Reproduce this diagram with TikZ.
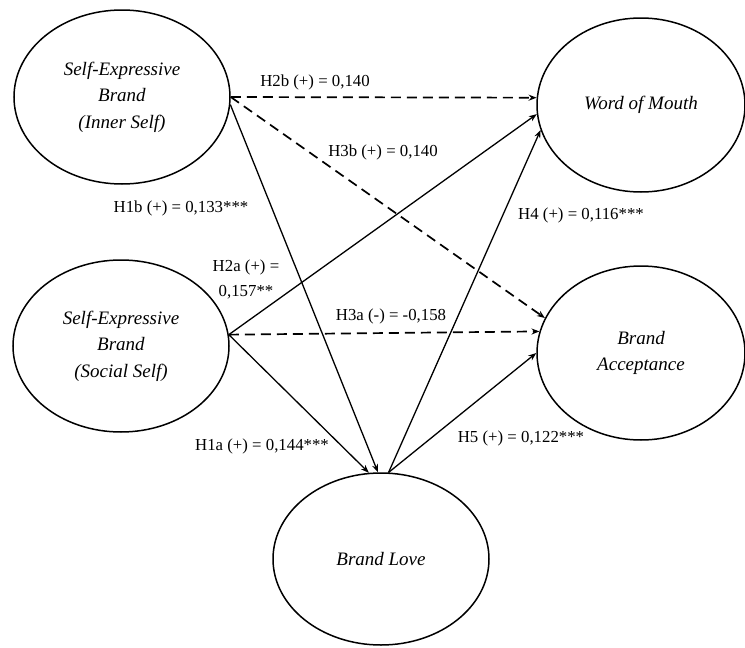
\documentclass[tikz,border=0pt]{standalone}
\usepackage{fontspec}
\setmainfont{Liberation Serif}
\usetikzlibrary{shapes.geometric,arrows.meta}
\begin{document}
\begin{tikzpicture}[x=1pt,y=-1pt,
  construct/.style={draw,ellipse,line width=1.5pt,inner sep=0pt,align=center,
    font=\fontsize{19}{26.5}\selectfont\itshape},
  lbl/.style={font=\fontsize{16.8}{25}\selectfont,inner sep=0pt,align=center},
  link/.style={line width=1.3pt,-{Stealth[length=8pt,width=6pt]}},
  dlink/.style={link,line width=1.7pt,dash pattern=on 10pt off 6pt}]
\useasboundingbox (0,0) rectangle (745,648);
\node[construct,minimum width=216pt,minimum height=174pt] (inner) at (122,97)
  {Self-Expressive\\Brand\\(Inner Self)};
\node[construct,minimum width=216pt,minimum height=172pt] (social) at (121,346)
  {Self-Expressive\\Brand\\(Social Self)};
\node[construct,minimum width=208pt,minimum height=174pt] (wom) at (641,105)
  {Word of Mouth};
\node[construct,minimum width=208pt,minimum height=174pt] (ba) at (641,353)
  {Brand\\Acceptance};
\node[construct,minimum width=216pt,minimum height=172pt] (bl) at (381,559)
  {Brand Love};
% connectors
\draw[dlink] (inner.0) -- (wom.176);
\draw[dlink] (inner.0) -- (ba.160);
\draw[link] (inner.-4) -- (bl.92.6);
\draw[link] (social.6) -- (wom.185.5);
\draw[dlink] (social.6) -- (ba.168.5);
\draw[link] (social.6) -- (bl.98.5);
\draw[link] (bl.85) -- (wom.194.7);
\draw[link] (bl.85) -- (ba.180.5);
% labels
\node[lbl] (l2b) at (315,82) {H2b (+) = 0,140};
\node[lbl] (l3b) at (383,152) {H3b (+) = 0,140};
\node[lbl] (l1b) at (181,208) {H1b (+) = 0,133***};
\node[lbl] (l2a) at (246,279) {H2a (+) =\\0,157**};
\node[lbl] (l3a) at (391,316) {H3a (-) = -0,158};
\node[lbl] (l4) at (581,215) {H4 (+) = 0,116***};
\node[lbl] (l5) at (521,438) {H5 (+) = 0,122***};
\node[lbl] (l1a) at (262,446) {H1a (+) = 0,144***};
\end{tikzpicture}
\end{document}
